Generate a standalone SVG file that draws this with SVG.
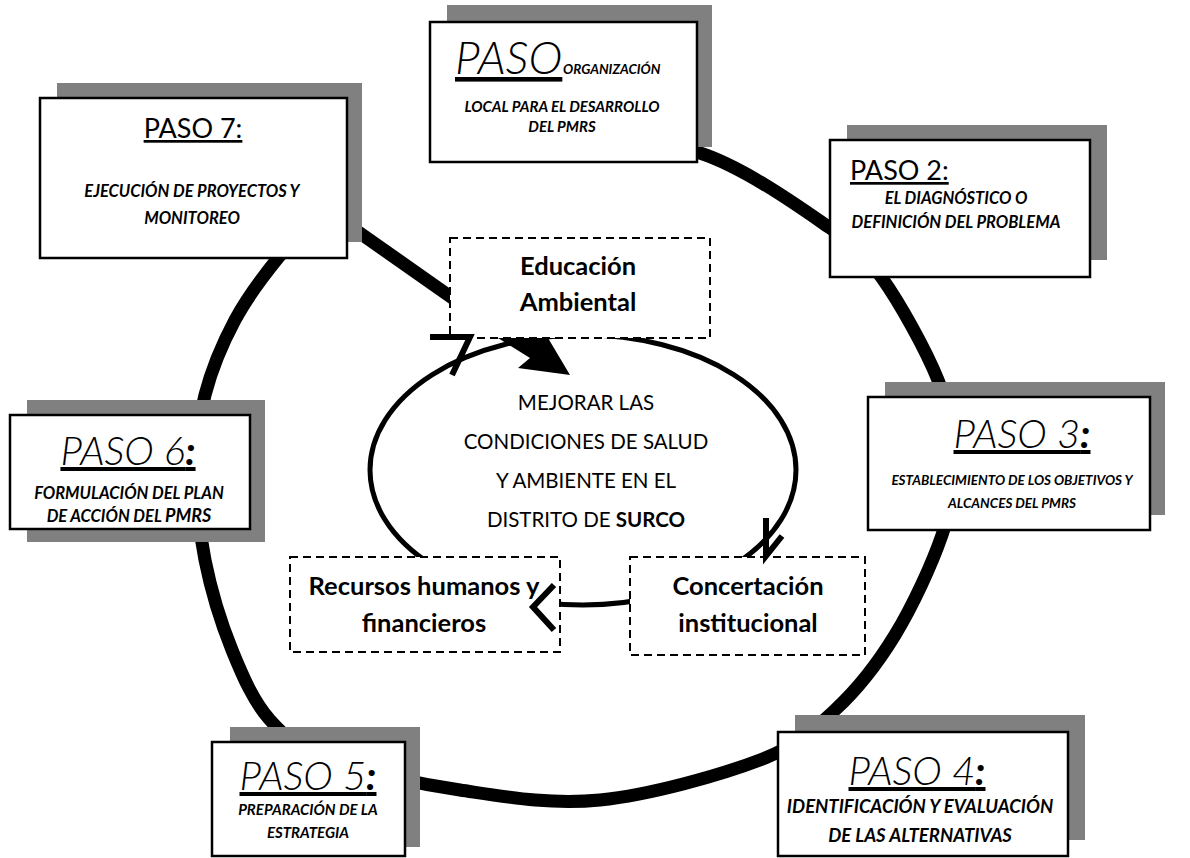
<svg xmlns="http://www.w3.org/2000/svg" width="1190" height="858" viewBox="0 0 1190 858">
<style>
.shadow{fill:#808080;stroke:none}
.box{fill:#fff;stroke:#000;stroke-width:2.5}
.dbox{fill:#fff;stroke:#000;stroke-width:2;stroke-dasharray:8 5}
.ring{fill:none;stroke:#000;stroke-width:13}
.loop{fill:none;stroke:#000;stroke-width:5}
.head{fill:none;stroke:#000;stroke-width:6}
text{font-family:Lato,"Open Sans","Liberation Sans",sans-serif;fill:#000}
.big{font-size:40px;font-weight:300;font-style:italic;text-anchor:middle;text-decoration:underline}
.mid{font-size:27px;font-weight:400;text-decoration:underline}
.sm{font-weight:bold;font-style:italic;text-anchor:middle}
.ctr{font-size:20.5px;text-anchor:middle}
.lbl{font-size:25.5px;font-weight:bold;text-anchor:middle}
</style>
<rect width="1190" height="858" fill="#fff"/>

<g id="connectors">
<path class="ring" d="M560,140 C606.7,141.3 655,138.3 700,153 C745,167.7 799.7,207.2 830,228 C860.3,248.8 864,252.7 882,278 C900,303.3 925.8,349.7 938,380 C950.2,410.3 954.3,434.2 955,460 C955.7,485.8 952,505.8 942,535 C932,564.2 912.8,605.8 895,635 C877.2,664.2 857.5,689.2 835,710 C812.5,730.8 799.2,745 760,760 C720.8,775 650,795 600,800 C550,805 505,796.7 460,790 C415,783.3 361.7,771.7 330,760 C298.3,748.3 286.3,738.3 270,720 C253.7,701.7 242.8,676.7 232,650 C221.2,623.3 211,590 205,560 C199,530 196,497.5 196,470 C196,442.5 198.5,420 205,395 C211.5,370 222.8,342.8 235,320 C247.2,297.2 263.8,275.5 278,258 C292.2,240.5 306.3,228 320,215"/>
<line class="ring" x1="320" y1="205" x2="458" y2="302"/>
<ellipse class="loop" cx="583" cy="470" rx="213" ry="135"/>
</g>

<g id="educacion">
<rect class="dbox" x="450" y="238" width="260" height="100"/>
<text class="lbl" x="578" y="275">Educación</text>
<text class="lbl" x="578" y="311">Ambiental</text>
</g>
<g id="recursos">
<rect class="dbox" x="290" y="557" width="270" height="95"/>
<text class="lbl" x="424" y="595">Recursos humanos y</text>
<text class="lbl" x="424" y="632">financieros</text>
</g>
<g id="concertacion">
<rect class="dbox" x="630" y="557" width="235" height="98"/>
<text class="lbl" x="748" y="595">Concertación</text>
<text class="lbl" x="748" y="632">institucional</text>
</g>

<g id="connector-heads">
<polyline class="head" points="430,337 470,337 452,375"/>
<polyline class="head" points="766,518 766,556 782,536"/>
<polyline class="head" points="554,585 533,607 554,630"/>
<polygon points="498,338 548,338 570,375 518,368 530,358" fill="#000"/>
</g>

<g id="centro">
<text class="ctr" x="586" y="410">MEJORAR LAS</text>
<text class="ctr" x="586" y="449">CONDICIONES DE SALUD</text>
<text class="ctr" x="586" y="488">Y AMBIENTE EN EL</text>
<text class="ctr" x="586" y="527">DISTRITO DE <tspan font-weight="bold">SURCO</tspan></text>
</g>

<g id="paso1">
<rect class="shadow" x="447" y="5" width="265" height="142"/>
<rect class="box" x="430" y="22" width="267" height="140"/>
<text x="455" y="74" font-size="46" font-weight="300" font-style="italic" text-decoration="underline">PASO </text>
<text x="563" y="74" font-size="13.5" font-weight="bold" font-style="italic">ORGANIZACIÓN</text>
<text class="sm" x="562" y="112" font-size="15">LOCAL  PARA EL DESARROLLO</text>
<text class="sm" x="562" y="132" font-size="15">DEL PMRS</text>
</g>

<g id="paso2">
<rect class="shadow" x="847" y="125" width="260" height="135"/>
<rect class="box" x="830" y="140" width="260" height="137"/>
<text class="mid" x="850" y="180">PASO 2:</text>
<text class="sm" x="956" y="204" font-size="16.5">EL DIAGNÓSTICO O</text>
<text class="sm" x="956" y="228" font-size="16.5">DEFINICIÓN DEL PROBLEMA</text>
</g>

<g id="paso3">
<rect class="shadow" x="885" y="382" width="280" height="133"/>
<rect class="box" x="868" y="397" width="282" height="133"/>
<text class="big" x="1022" y="448">PASO 3<tspan font-weight="bold">:</tspan></text>
<text class="sm" x="1012" y="485" font-size="13.5">ESTABLECIMIENTO DE LOS OBJETIVOS Y</text>
<text class="sm" x="1012" y="508" font-size="13.5">ALCANCES DEL PMRS</text>
</g>

<g id="paso4">
<rect class="shadow" x="795" y="715" width="290" height="125"/>
<rect class="box" x="778" y="732" width="290" height="124"/>
<text class="big" x="917" y="785">PASO 4<tspan font-weight="bold">:</tspan></text>
<text class="sm" x="920" y="813" font-size="18.5">IDENTIFICACIÓN Y EVALUACIÓN</text>
<text class="sm" x="920" y="842" font-size="18.5">DE LAS ALTERNATIVAS</text>
</g>

<g id="paso5">
<rect class="shadow" x="230" y="727" width="190" height="120"/>
<rect class="box" x="212" y="742" width="193" height="114"/>
<text class="big" x="308" y="790">PASO 5<tspan font-weight="bold">:</tspan></text>
<text class="sm" x="308" y="815" font-size="15">PREPARACIÓN DE LA</text>
<text class="sm" x="308" y="838" font-size="15">ESTRATEGIA</text>
</g>

<g id="paso6">
<rect class="shadow" x="27" y="400" width="238" height="142"/>
<rect class="box" x="10" y="415" width="240" height="114"/>
<text class="big" x="128" y="465">PASO 6<tspan font-weight="bold">:</tspan></text>
<text class="sm" x="129" y="499" font-size="16.5">FORMULACIÓN DEL PLAN</text>
<text class="sm" x="129" y="522" font-size="16.5">DE ACCIÓN DEL <tspan font-size="18">PMRS</tspan></text>
</g>

<g id="paso7">
<rect class="shadow" x="57" y="83" width="305" height="159"/>
<rect class="box" x="40" y="98" width="307" height="160"/>
<text class="mid" x="193" y="138" text-anchor="middle">PASO 7:</text>
<text class="sm" x="192" y="197" font-size="16.5">EJECUCIÓN DE PROYECTOS Y</text>
<text class="sm" x="192" y="224" font-size="16.5">MONITOREO</text>
</g>
</svg>
